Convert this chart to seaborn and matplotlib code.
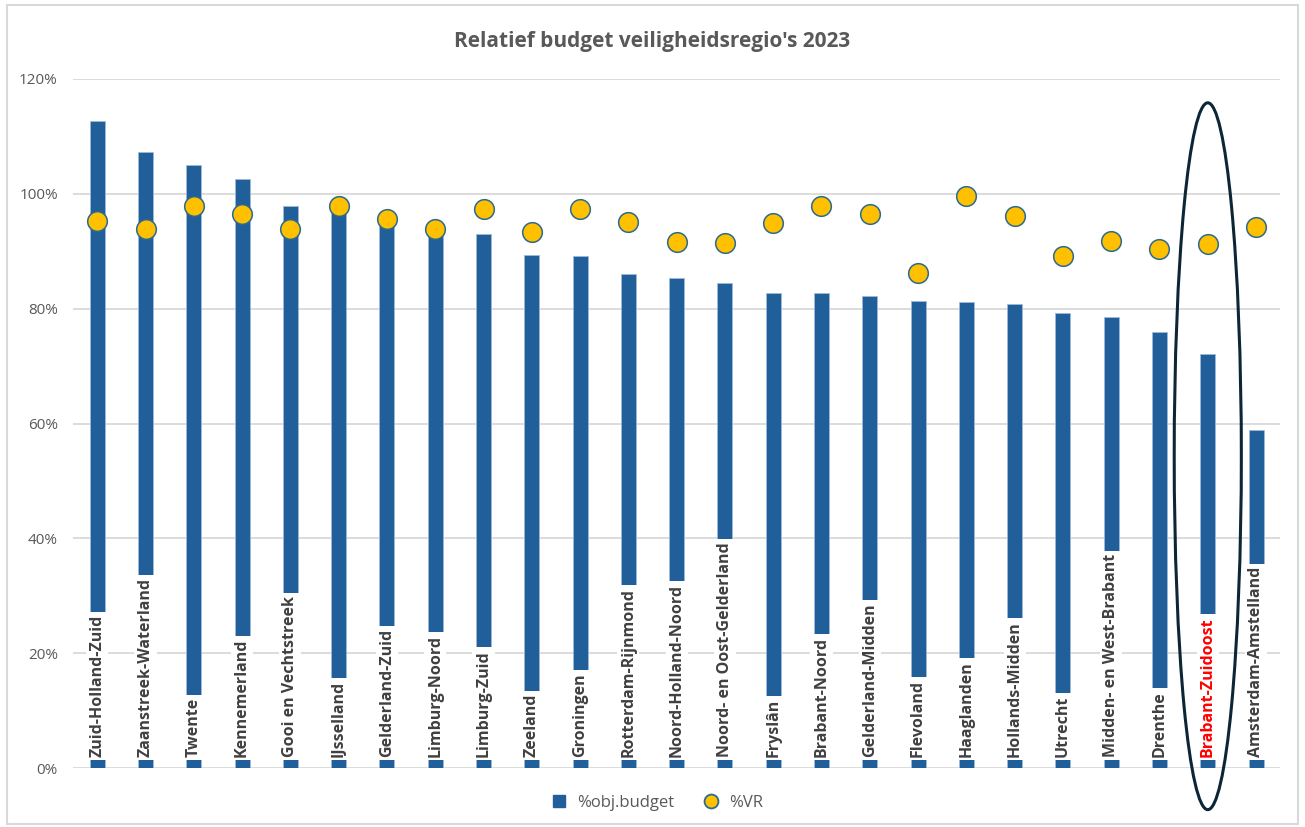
# Relatief budget veiligheidsregio's 2023 - bar + dot chart

import numpy as np
import pandas as pd
import matplotlib
matplotlib.use("Agg")
import matplotlib.pyplot as plt
from matplotlib.patches import Ellipse, Rectangle
from matplotlib.lines import Line2D
import seaborn as sns

# 1. Data
regions = [
    "Zuid-Holland-Zuid", "Zaanstreek-Waterland", "Twente", "Kennemerland",
    "Gooi en Vechtstreek", "IJsselland", "Gelderland-Zuid", "Limburg-Noord",
    "Limburg-Zuid", "Zeeland", "Groningen", "Rotterdam-Rijnmond",
    "Noord-Holland-Noord", "Noord- en Oost-Gelderland", "Fryslân",
    "Brabant-Noord", "Gelderland-Midden", "Flevoland", "Haaglanden",
    "Hollands-Midden", "Utrecht", "Midden- en West-Brabant", "Drenthe",
    "Brabant-Zuidoost", "Amsterdam-Amstelland",
]
obj_budget = [112.7, 107.3, 105.0, 102.6, 97.9, 96.8, 95.4, 93.8, 93.0, 89.3,
              89.2, 86.0, 85.3, 84.5, 82.7, 82.7, 82.2, 81.3, 81.2, 80.8,
              79.2, 78.5, 75.9, 72.1, 58.9]
vr = [95.3, 93.9, 97.9, 96.5, 93.9, 97.9, 95.6, 93.9, 97.4, 93.3,
      97.4, 95.1, 91.6, 91.4, 94.9, 97.9, 96.5, 86.2, 99.6, 96.1,
      89.2, 91.8, 90.4, 91.3, 94.2]
highlight = "Brabant-Zuidoost"
y_ticks = [0, 20, 40, 60, 80, 100, 120]

df = pd.DataFrame({"regio": regions, "obj_budget": obj_budget, "vr": vr})
df["pos"] = np.arange(len(df))

bar_color = "#215F9A"
dot_color = "#FFC000"
dot_edge = "#2A6A8F"
text_gray = "#595959"

# 2. Figure setup
sns.set_style("white")
plt.rcParams["font.family"] = ["Open Sans", "DejaVu Sans"]

fig = plt.figure(figsize=(13.05, 8.27), dpi=100)
ax = fig.add_axes([0.056, 0.0713, 0.925, 0.8332])

# 3. Bars and dots
sns.barplot(data=df, x="pos", y="obj_budget", color=bar_color, width=0.31,
            native_scale=True, edgecolor="#9dbbd9", linewidth=0.6,
            saturation=1, ax=ax, zorder=2)
sns.scatterplot(data=df, x="pos", y="vr", s=200, color=dot_color,
                edgecolor=dot_edge, linewidth=1.1, ax=ax, zorder=4)

# 4. Category labels inside the bars (white box)
for _, row in df.iterrows():
    is_hl = row["regio"] == highlight
    ax.text(row["pos"], 1.9, row["regio"], rotation=90, ha="center", va="bottom",
            fontsize=11.5, fontweight="bold",
            color="#FF0000" if is_hl else "#404040",
            bbox=dict(facecolor="white", edgecolor="none", pad=2.2), zorder=3)

# 5. Highlight ellipse around Brabant-Zuidoost
hl_pos = df.loc[df["regio"] == highlight, "pos"].iloc[0]
ell = Ellipse((hl_pos, 54.3), width=1.39, height=123.1, fill=False,
              edgecolor="#0D2636", linewidth=2.2, clip_on=False, zorder=5)
ax.add_patch(ell)

# 6. Axes styling
ax.set_xlim(-0.5, len(df) - 0.5)
ax.set_ylim(0, 120)
ax.set_yticks(y_ticks)
ax.set_yticklabels([f"{t}%" for t in y_ticks], color=text_gray, fontsize=11)
ax.set_xticks([])
ax.set_xlabel("")
ax.set_ylabel("")
ax.tick_params(axis="y", length=0, pad=11)
ax.yaxis.grid(True, color="#D9D9D9", linewidth=1.3, zorder=0)
ax.set_axisbelow(True)
for s in ax.spines.values():
    s.set_visible(False)

fig.suptitle("Relatief budget veiligheidsregio's 2023", x=0.5, y=0.962,
             fontsize=15, fontweight="bold", color=text_gray)

# 7. Legend
handles = [
    Line2D([], [], marker="s", linestyle="none", markersize=9,
           markerfacecolor=bar_color, markeredgecolor=bar_color),
    Line2D([], [], marker="o", linestyle="none", markersize=10,
           markerfacecolor=dot_color, markeredgecolor=dot_edge, markeredgewidth=1.3),
]
fig.legend(handles, ["%obj.budget", "%VR"], loc="center", ncol=2,
           bbox_to_anchor=(0.5, 0.029), frameon=False, fontsize=12,
           labelcolor=text_gray, handletextpad=0.1, columnspacing=1.2)

# 8. Outer frame
fig.patches.append(Rectangle((0.005, 0.004), 0.99, 0.99, transform=fig.transFigure,
                             fill=False, edgecolor="#D9D9D9", linewidth=1.5))

fig.savefig("out.png", dpi=100)
